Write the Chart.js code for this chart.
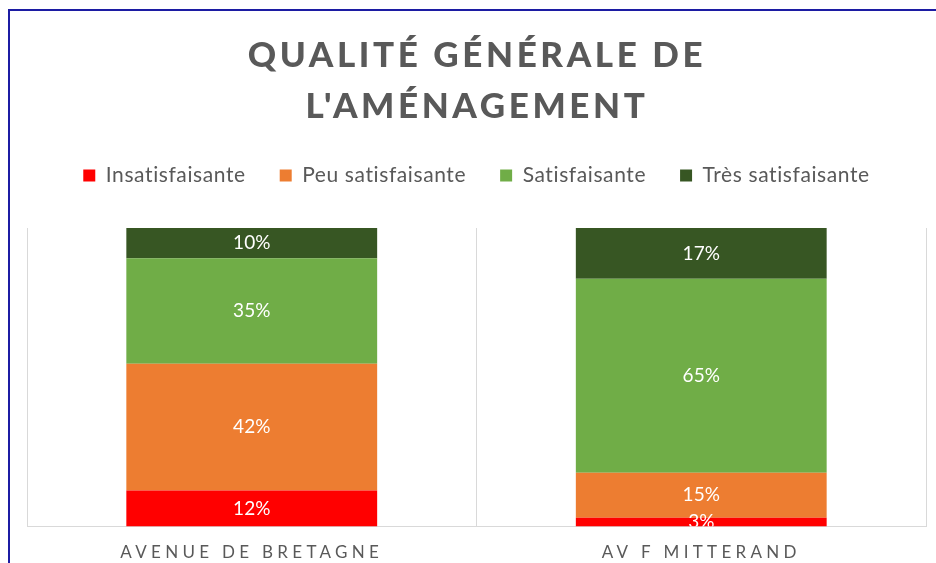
<!DOCTYPE html>
<html>
<head>
<meta charset="utf-8">
<script src="https://cdn.jsdelivr.net/npm/chart.js@4.4.1/dist/chart.umd.min.js"></script>
<style>
  html, body { margin: 0; padding: 0; background: #fff; overflow: hidden; }
  #wrap { position: relative; width: 936px; height: 563px; overflow: hidden; background: #fff; }
  #frame { position: absolute; left: 8px; top: 9px; width: 1000px; height: 700px; border: 2px solid #1c1ca3; box-sizing: border-box; }
  #title { position: absolute; left: 0; top: 28px; width: 954px; text-align: center; font: 900 35px Lato, sans-serif; color: #595959; letter-spacing: 3.6px; line-height: 51px; }
  canvas { position: absolute; left: 0; top: 0; }
</style>
</head>
<body>
<div id="wrap">
  <div id="frame"></div>
  <canvas id="chart" width="936" height="563"></canvas>
  <div id="title">QUALITÉ GÉNÉRALE DE<br>L'AMÉNAGEMENT</div>
</div>
<script>
const categories = ['AVENUE DE BRETAGNE', 'AV F MITTERAND'];
const seriesNames = ['Insatisfaisante', 'Peu satisfaisante', 'Satisfaisante', 'Très satisfaisante'];
const insatisfaisante = [12, 3];
const peuSatisfaisante = [42, 15];
const satisfaisante = [35, 65];
const tresSatisfaisante = [10, 17];
const seriesColors = ['#ff0000', '#ed7d31', '#70ad47', '#375623'];

const seriesValues = [insatisfaisante, peuSatisfaisante, satisfaisante, tresSatisfaisante];

// 100% stacked: each bar is scaled to its own total, labels keep the raw values
const totals = categories.map((c, j) => seriesValues.reduce((s, vals) => s + vals[j], 0));

const datasets = seriesValues.map((vals, i) => ({
  label: seriesNames[i],
  raw: vals,
  data: vals.map((v, j) => v / totals[j] * 100),
  backgroundColor: seriesColors[i],
  borderWidth: 0,
  categoryPercentage: 1,
  barPercentage: 0.558
}));

const LEGEND_SPACING = '0.6px';
const TICK_SPACING = '4.3px';

// white value labels in the middle of each segment
const barLabels = {
  id: 'barLabels',
  beforeDraw(chart) {
    // legend is drawn before the datasets
    chart.ctx.letterSpacing = LEGEND_SPACING;
  },
  afterDatasetsDraw(chart) {
    const { ctx, chartArea } = chart;
    ctx.letterSpacing = '0px';
    ctx.save();
    ctx.beginPath();
    ctx.rect(chartArea.left, chartArea.top, chartArea.right - chartArea.left, chartArea.bottom - chartArea.top);
    ctx.clip();
    ctx.font = '19px Lato, sans-serif';
    ctx.fillStyle = '#ffffff';
    ctx.textAlign = 'center';
    ctx.textBaseline = 'middle';
    chart.data.datasets.forEach((ds, i) => {
      chart.getDatasetMeta(i).data.forEach((bar, j) => {
        ctx.fillText(ds.raw[j] + '%', bar.x, (bar.y + bar.base) / 2);
      });
    });
    ctx.restore();
    // x tick labels (z: 1) are drawn after this point, spaced like the original
    ctx.letterSpacing = TICK_SPACING;
  },
  afterDraw(chart) {
    chart.ctx.letterSpacing = '0px';
  }
};

// extra room between the legend and the plot, and measure with the same spacing
const legendGap = {
  id: 'legendGap',
  beforeInit(chart) {
    const fit = chart.legend.fit;
    chart.legend.fit = function () {
      this.ctx.letterSpacing = LEGEND_SPACING;
      fit.call(this);
      this.ctx.letterSpacing = '0px';
      this.height += 32;
    };
  }
};

new Chart(document.getElementById('chart'), {
  type: 'bar',
  data: {
    labels: categories,
    datasets: datasets
  },
  plugins: [legendGap, barLabels],
  options: {
    responsive: false,
    animation: false,
    layout: { padding: { left: 27, right: 10, top: 131, bottom: -16 } },
    plugins: {
      title: { display: false },
      tooltip: { enabled: false },
      legend: {
        position: 'top',
        labels: {
          boxWidth: 12,
          boxHeight: 12,
          padding: 34,
          color: '#595959',
          font: { family: 'Lato', size: 21 }
        }
      }
    },
    scales: {
      x: {
        stacked: true,
        grid: { offset: true, color: '#d9d9d9', drawTicks: false },
        border: { color: '#d9d9d9' },
        ticks: {
          z: 1,
          padding: 16,
          color: '#595959',
          maxRotation: 0,
          autoSkip: false,
          font: { family: 'Lato', size: 17 }
        }
      },
      y: {
        stacked: true,
        display: false,
        min: 0,
        max: 100
      }
    }
  }
});
</script>
</body>
</html>
